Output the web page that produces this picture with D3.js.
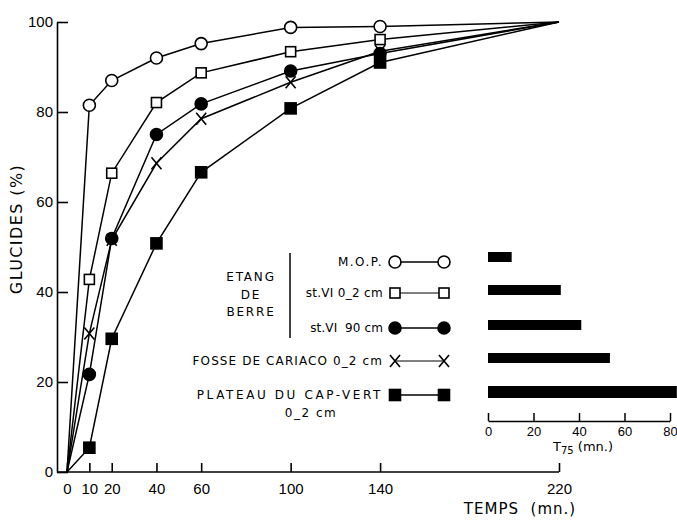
<!DOCTYPE html>
<html>
<head>
<meta charset="utf-8">
<script src="https://cdn.jsdelivr.net/npm/d3@7"></script>
<style>
  body { margin: 0; background: #fff; }
  svg { font-family: "DejaVu Sans", sans-serif; }
  svg text { white-space: pre; }
</style>
</head>
<body>
<div id="chart"></div>
<script>
// times (mn.) and glucide percentages for each sediment
const temps = [0, 10, 20, 40, 60, 100, 140, 220];
const mop = [0, 81.5, 87, 92, 95.2, 98.8, 99, 100];
const stVI02 = [0, 42.8, 66.4, 82.1, 88.7, 93.4, 96.1, 100];
const stVI90 = [0, 21.7, 51.9, 75, 81.8, 89.1, 93, 100];
const cariaco = [0, 30.8, 51.6, 68.6, 78.5, 86.6, 93.5, 100];
const capVert = [0, 5.4, 29.6, 50.8, 66.6, 80.8, 91, 100];

// T75 inset values (mn.)
const t75 = [10.4, 32, 41, 53.6, 83];

const xTicks = [0, 10, 20, 40, 60, 100, 140, 220];
const yTicks = [0, 20, 40, 60, 80, 100];
const t75Ticks = [0, 20, 40, 60, 80];

const series = [
  {name: 'M.O.P.', values: mop, marker: 'circle', fill: '#fff', spacing: 1.5},
  {name: 'st.VI 0_2 cm', values: stVI02, marker: 'square', fill: '#fff', spacing: 0.3},
  {name: 'st.VI  90 cm', values: stVI90, marker: 'circle', fill: '#000', spacing: 0.1},
  {name: 'FOSSE DE CARIACO 0_2 cm', values: cariaco, marker: 'cross', fill: 'none', spacing: 1.1},
  {name: 'PLATEAU DU CAP-VERT', values: capVert, marker: 'square', fill: '#000', spacing: 2.6}
];

const width = 677, height = 522;
const svg = d3.select('#chart').append('svg')
  .attr('width', width)
  .attr('height', height);

const x = d3.scaleLinear().domain([0, 220]).range([67, 559]);
const y = d3.scaleLinear().domain([0, 100]).range([472, 22]);

// y axis with inward ticks
const yAxis = svg.append('g')
  .attr('transform', 'translate(57,0)')
  .call(d3.axisLeft(y).tickValues(yTicks).tickSizeInner(-11).tickSizeOuter(0).tickPadding(4));
yAxis.selectAll('text').style('font-size', '15px').attr('fill', '#000');
yAxis.selectAll('line, path').attr('stroke', '#000').attr('stroke-width', 1.6);

// x axis, the line starts at the y axis
const xAxis = svg.append('g')
  .attr('transform', 'translate(0,472)')
  .call(d3.axisBottom(x).tickValues(xTicks).tickSizeInner(-9).tickSizeOuter(0).tickPadding(11));
xAxis.select('.domain').remove();
xAxis.selectAll('text').style('font-size', '15px').attr('fill', '#000');
xAxis.selectAll('line').attr('stroke', '#000').attr('stroke-width', 1.6);
xAxis.append('line')
  .attr('x1', 57).attr('x2', x(220))
  .attr('stroke', '#000').attr('stroke-width', 1.6);

// axis titles
svg.append('text')
  .attr('transform', 'translate(22,229) rotate(-90)')
  .attr('text-anchor', 'middle')
  .style('font-size', '16px')
  .style('letter-spacing', '1.4px')
  .text('GLUCIDES (%)');

svg.append('text')
  .attr('x', 520).attr('y', 514)
  .attr('text-anchor', 'middle')
  .style('font-size', '15px')
  .style('letter-spacing', '1px')
  .text('TEMPS  (mn.)');

// draws a marker of the given kind at (cx, cy)
function marker(g, kind, fill, cx, cy) {
  if (kind === 'circle') {
    g.append('circle').attr('cx', cx).attr('cy', cy).attr('r', 6)
      .attr('fill', fill).attr('stroke', '#000').attr('stroke-width', 1.6);
  } else if (kind === 'square') {
    const s = fill === '#000' ? 11 : 10;
    g.append('rect').attr('x', cx - s / 2).attr('y', cy - s / 2)
      .attr('width', s).attr('height', s)
      .attr('fill', fill).attr('stroke', '#000').attr('stroke-width', 1.6);
  } else {
    g.append('path')
      .attr('d', `M${cx - 5},${cy - 6}L${cx + 5},${cy + 6}M${cx + 5},${cy - 6}L${cx - 5},${cy + 6}`)
      .attr('stroke', '#000').attr('stroke-width', 1.6);
  }
}

const line = d3.line()
  .x((d, i) => x(temps[i]))
  .y(d => y(d));

series.forEach(s => {
  svg.append('path')
    .datum(s.values)
    .attr('d', line)
    .attr('fill', 'none')
    .attr('stroke', '#000')
    .attr('stroke-width', 1.5);
  const g = svg.append('g');
  // no marker at the origin nor at the 220 end point
  s.values.forEach((v, i) => {
    if (i === 0 || i === temps.length - 1) return;
    marker(g, s.marker, s.fill, x(temps[i]), y(v));
  });
});

// legend
const legendY = [262, 293, 328, 361, 395];
const legend = svg.append('g');
series.forEach((s, i) => {
  legend.append('line')
    .attr('x1', 395).attr('x2', 444)
    .attr('y1', legendY[i]).attr('y2', legendY[i])
    .attr('stroke', '#000').attr('stroke-width', i === 1 || i === 3 ? 1 : 1.5);
  marker(legend, s.marker, s.fill, 395, legendY[i]);
  marker(legend, s.marker, s.fill, 444, legendY[i]);
  legend.append('text')
    .attr('x', 383).attr('y', legendY[i] + 4)
    .attr('text-anchor', 'end')
    .style('font-size', '12px')
    .style('letter-spacing', s.spacing + 'px')
    .text(s.name);
});
legend.append('text')
    .attr('x', 311).attr('y', 417)
    .attr('text-anchor', 'middle')
    .style('font-size', '12px')
    .style('letter-spacing', '1.5px')
    .text('0_2 cm');

// bracket for the Etang de Berre group
legend.append('line')
  .attr('x1', 290).attr('x2', 290).attr('y1', 253).attr('y2', 338)
  .attr('stroke', '#000').attr('stroke-width', 1.5);
['ETANG', 'DE', 'BERRE'].forEach((t, i) => {
  legend.append('text')
    .attr('x', 251).attr('y', 281 + i * 17.5)
    .attr('text-anchor', 'middle')
    .style('font-size', '12px')
    .style('letter-spacing', '1.8px')
    .text(t);
});

// inset: T75 bars
const xT = d3.scaleLinear().domain([0, 80]).range([488, 670]);
const barY = [257, 290, 325, 358, 392];

svg.append('g').selectAll('rect')
  .data(t75)
  .enter()
  .append('rect')
    .attr('x', xT(0))
    .attr('y', (d, i) => barY[i] - (i === 4 ? 6 : 5))
    .attr('width', d => xT(d) - xT(0))
    .attr('height', (d, i) => i === 4 ? 12 : 10)
    .attr('fill', '#000');

const tAxis = svg.append('g')
  .attr('transform', 'translate(0,421)')
  .call(d3.axisBottom(xT).tickValues(t75Ticks).tickSizeInner(-8).tickSizeOuter(0).tickPadding(6));
tAxis.selectAll('text').style('font-size', '13px').attr('fill', '#000');
tAxis.selectAll('line, path').attr('stroke', '#000').attr('stroke-width', 1.5);

const tTitle = svg.append('text')
  .attr('x', 583).attr('y', 451)
  .attr('text-anchor', 'middle')
  .style('font-size', '13px');
tTitle.append('tspan').text('T');
tTitle.append('tspan').attr('dy', 3).style('font-size', '10px').text('75');
tTitle.append('tspan').attr('dy', -3).text(' (mn.)');
</script>
</body>
</html>
